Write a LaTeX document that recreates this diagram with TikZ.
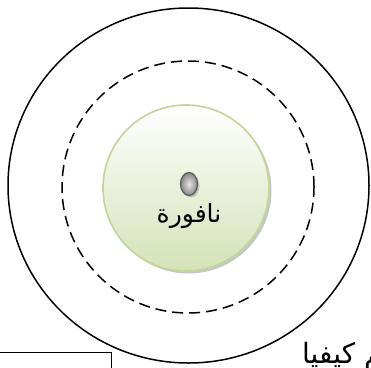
\documentclass[tikz,border=0pt]{standalone}
\usepackage{fontspec}
\usetikzlibrary{shapes.geometric,shadows,positioning}
\newfontfamily\arabicfont[Script=Arabic]{DejaVu Sans}
\TeXXeTstate=1
\definecolor{sage}{RGB}{195,214,155}
\definecolor{sagefill}{RGB}{212,226,184}
\definecolor{knobgrey}{RGB}{90,90,90}
\tikzset{
  ring/.style={draw=black,line width=1.5pt,inner sep=0pt},
  fountain/.style={circle,draw=sage,line width=1.7pt,minimum size=166pt,inner sep=0pt,
    top color=white,bottom color=sagefill,
    drop shadow={opacity=0.45,shadow xshift=2.5pt,shadow yshift=-2.5pt}},
  knob/.style={ellipse,draw=knobgrey,line width=1.2pt,minimum width=17pt,minimum height=23pt,
    inner sep=0pt,inner color=white!80!gray,outer color=gray!95,
    drop shadow={opacity=0.4,shadow xshift=2pt,shadow yshift=-2pt}},
  arlabel/.style={font=\arabicfont\fontsize{25}{28}\selectfont,inner sep=0pt},
}
\begin{document}
\begin{tikzpicture}[x=1pt,y=-1pt]
  \useasboundingbox (0,0) rectangle (371,367);
  \begin{scope}
    \clip (0,0) rectangle (371,367);
    % rings round the fountain
    \node[ring,ellipse,minimum width=361pt,minimum height=355pt] (outer) at (188.5,185.5) {};
    \node[ring,circle,dash pattern=on 11pt off 6pt,minimum size=252pt] (walk) at (188,187) {};
    \node[fountain] (basin) at (186,188) {};
    \node[knob] (jet) at (189,184) {};
    \node[arlabel,below=7pt of jet] (name) {\beginR نافورة\endR};
    % cut-off frame and caption
    \node[draw=black,line width=1.1pt,minimum width=130pt,minimum height=40pt,
      inner sep=0pt,anchor=north east] (frame) at (112,352) {};
    \node[arlabel,anchor=base west,font=\arabicfont\fontsize{28}{31}\selectfont] (note) at (302,363) {\beginR تقسيم كيفيا\endR};
  \end{scope}
\end{tikzpicture}
\end{document}
